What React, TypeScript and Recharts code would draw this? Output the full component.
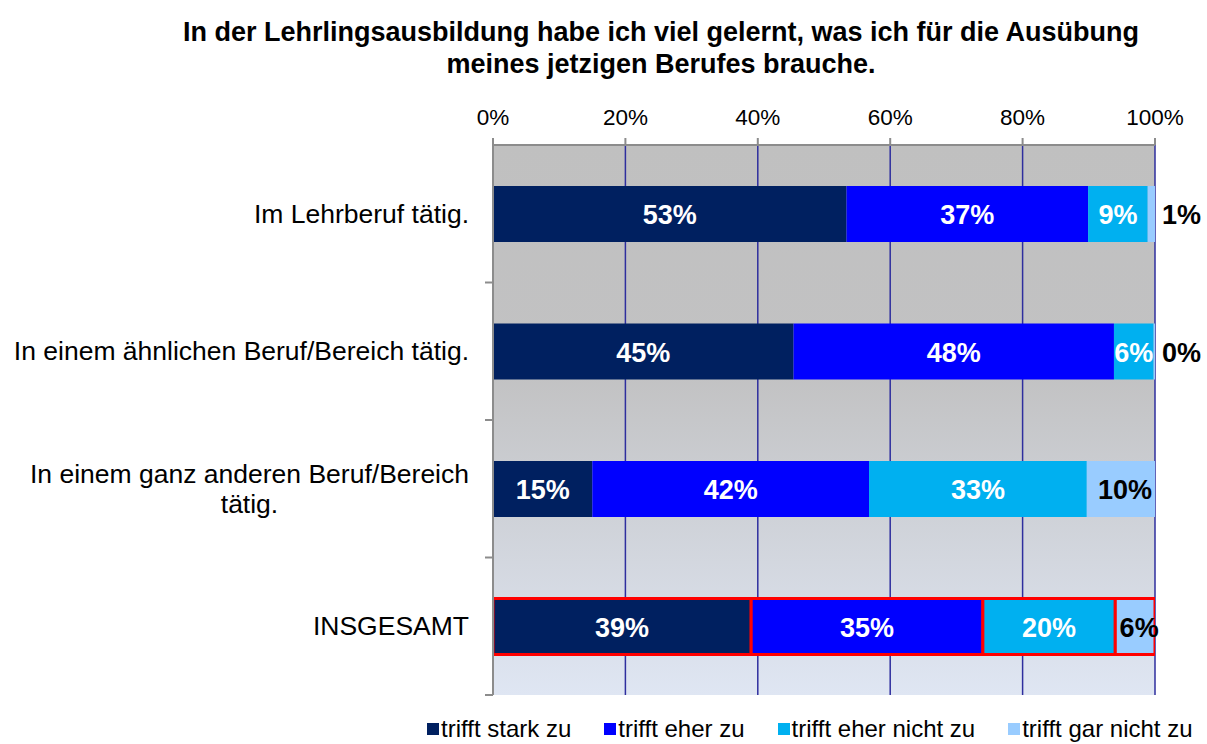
import React from 'react';
import { BarChart, Bar, XAxis, YAxis, CartesianGrid, LabelList, Legend, Cell } from 'recharts';

const categories = [
  'Im Lehrberuf tätig.',
  'In einem ähnlichen Beruf/Bereich tätig.',
  'In einem ganz anderen Beruf/Bereich\ntätig.',
  'INSGESAMT',
];
const starkZu = [53.4, 45.4, 15.0, 39.0];
const eherZu = [36.5, 48.4, 41.8, 35.0];
const eherNichtZu = [9.0, 6.0, 32.9, 20.0];
const garNichtZu = [1.1, 0.2, 10.3, 6.0];
const seriesNames = ['trifft stark zu', 'trifft eher zu', 'trifft eher nicht zu', 'trifft gar nicht zu'];
const seriesKeys = ['s1', 's2', 's3', 's4'];
const seriesColors = ['#002060', '#0000ff', '#00b0f0', '#99ccff'];
const xTicks = [0, 20, 40, 60, 80, 100];
const titleLines = [
  'In der Lehrlingsausbildung habe ich viel gelernt, was ich für die Ausübung',
  'meines jetzigen Berufes brauche.',
];
const highlighted = ['INSGESAMT'];

const data = categories.map((name, i) => ({
  name,
  s1: starkZu[i],
  s2: eherZu[i],
  s3: eherNichtZu[i],
  s4: garNichtZu[i],
}));

const FONT = '"Liberation Sans", Arial, sans-serif';
const W = 1207;
const H = 744;
const M_TOP = 100;
const X_AXIS_H = 45;
const M_BOTTOM = 49;
const M_RIGHT = 52;
const Y_AXIS_W = 493;
const PLOT_TOP = M_TOP + X_AXIS_H;
const PLOT_H = H - PLOT_TOP - M_BOTTOM;
const HALF_BAND = PLOT_H / categories.length / 2;
const LABEL_RIGHT = Y_AXIS_W - 24;
const CAT_FONT = 26.5;

let measureCtx: CanvasRenderingContext2D | null = null;
function measure(text: string, font: string): number {
  if (!measureCtx) {
    const c = document.createElement('canvas');
    measureCtx = c.getContext('2d');
  }
  if (!measureCtx) return text.length * 11;
  measureCtx.font = font;
  return measureCtx.measureText(text).width;
}

const YTick = (props: any) => {
  const { y, payload } = props;
  const lines = String(payload.value).split('\n');
  const tick = (
    <line x1={Y_AXIS_W - 8} x2={Y_AXIS_W} y1={y + HALF_BAND} y2={y + HALF_BAND} stroke="#8c8c8c" strokeWidth={2} />
  );
  if (lines.length === 1) {
    return (
      <g>
        <text x={LABEL_RIGHT} y={y} textAnchor="end" dominantBaseline="central" fontFamily={FONT} fontSize={CAT_FONT} fill="#000">
          {lines[0]}
        </text>
        {tick}
      </g>
    );
  }
  const w = Math.max(...lines.map((l) => measure(l, `${CAT_FONT}px ${FONT}`)));
  const cx = LABEL_RIGHT - w / 2;
  const lh = 30;
  return (
    <g>
      {lines.map((l, i) => (
        <text
          key={i}
          x={cx}
          y={y + (i - (lines.length - 1) / 2) * lh}
          textAnchor="middle"
          dominantBaseline="central"
          fontFamily={FONT}
          fontSize={CAT_FONT}
          fill="#000"
        >
          {l}
        </text>
      ))}
      {tick}
    </g>
  );
};

const XTick = (props: any) => {
  const { x, payload } = props;
  return (
    <text x={x} y={PLOT_TOP - 28} textAnchor="middle" dominantBaseline="central" fontFamily={FONT} fontSize={22.5} fill="#000">
      {`${payload.value}%`}
    </text>
  );
};

const innerLabel = (props: any) => {
  const { x, y, width, height, value } = props;
  return (
    <text
      x={x + width / 2}
      y={y + height / 2 + 1}
      textAnchor="middle"
      dominantBaseline="central"
      fontFamily={FONT}
      fontWeight="bold"
      fontSize={27}
      fill="#ffffff"
    >
      {`${Math.round(value)}%`}
    </text>
  );
};

const lastLabel = (props: any) => {
  const { x, y, width, height, value } = props;
  const outside = width < 20;
  return (
    <text
      x={outside ? x + width + 7 : x + width / 2 + 4}
      y={y + height / 2 + 1}
      textAnchor={outside ? 'start' : 'middle'}
      dominantBaseline="central"
      fontFamily={FONT}
      fontWeight="bold"
      fontSize={27}
      fill="#000000"
    >
      {`${Math.round(value)}%`}
    </text>
  );
};

const renderLegend = () => (
  <div
    style={{
      display: 'flex',
      alignItems: 'center',
      paddingLeft: 427,
      gap: 33,
      fontFamily: FONT,
      fontSize: 24,
      lineHeight: '28px',
      color: '#000',
      whiteSpace: 'nowrap',
    }}
  >
    {seriesNames.map((n, i) => (
      <div key={n} style={{ display: 'flex', alignItems: 'center' }}>
        <span style={{ display: 'inline-block', width: 12, height: 12, background: seriesColors[i], marginRight: 2 }} />
        <span>{n}</span>
      </div>
    ))}
  </div>
);

export default function App() {
  return (
    <div style={{ position: 'absolute', left: 0, top: 0, width: W, height: H, background: '#fff' }}>
      <div
        style={{
          position: 'absolute',
          top: 16,
          left: 115,
          width: 1092,
          textAlign: 'center',
          fontFamily: FONT,
          fontWeight: 'bold',
          fontSize: 27,
          lineHeight: '32px',
          color: '#000',
        }}
      >
        {titleLines.map((l) => (
          <div key={l}>{l}</div>
        ))}
      </div>
      <BarChart
        width={W}
        height={H}
        data={data}
        layout="vertical"
        margin={{ top: M_TOP, right: M_RIGHT, bottom: M_BOTTOM, left: 0 }}
        barCategoryGap={0}
      >
        <defs>
          <linearGradient id="bgGrad" x1="0" y1="0" x2="0" y2="1">
            <stop offset="0%" stopColor="#c0c0c0" />
            <stop offset="42%" stopColor="#c2c2c3" />
            <stop offset="100%" stopColor="#dfe6f3" />
          </linearGradient>
        </defs>
        <CartesianGrid horizontal={false} vertical stroke="#2e2e9e" strokeWidth={1.5} fill="url(#bgGrad)" />
        <XAxis
          type="number"
          orientation="top"
          domain={[0, 100]}
          ticks={xTicks}
          height={X_AXIS_H}
          tick={<XTick />}
          tickSize={7}
          tickLine={{ stroke: '#8c8c8c', strokeWidth: 2 }}
          axisLine={{ stroke: '#8c8c8c', strokeWidth: 2 }}
          allowDataOverflow
        />
        <YAxis
          type="category"
          dataKey="name"
          width={Y_AXIS_W}
          tick={<YTick />}
          tickLine={false}
          axisLine={{ stroke: '#8c8c8c', strokeWidth: 2 }}
          interval={0}
        />
        <Legend
          layout="horizontal"
          verticalAlign="middle"
          align="center"
          content={renderLegend}
          wrapperStyle={{ position: 'absolute', top: 715, left: 0, width: W, height: 28 }}
        />
        {seriesKeys.map((k, si) => (
          <Bar key={k} dataKey={k} name={seriesNames[si]} stackId="a" fill={seriesColors[si]} barSize={56} isAnimationActive={false}>
            {data.map((d) => (
              <Cell
                key={d.name}
                fill={seriesColors[si]}
                stroke={highlighted.includes(d.name) ? '#ff0000' : 'none'}
                strokeWidth={highlighted.includes(d.name) ? 3 : 0}
              />
            ))}
            <LabelList dataKey={k} content={si === 3 ? lastLabel : innerLabel} />
          </Bar>
        ))}
      </BarChart>
    </div>
  );
}
